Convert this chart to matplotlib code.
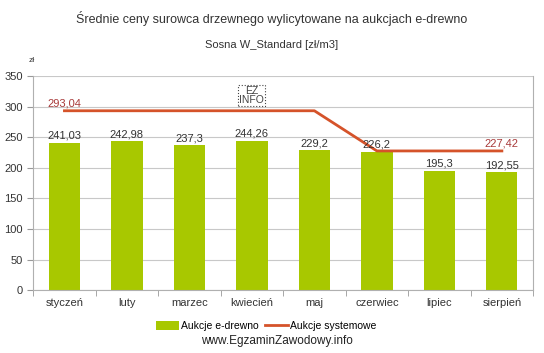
import matplotlib.pyplot as plt
import numpy as np

plt.rcParams['font.family'] = ['Liberation Sans', 'DejaVu Sans']

months = ["styczeń", "luty", "marzec", "kwiecień", "maj", "czerwiec", "lipiec", "sierpień"]
e_drewno = [241.03, 242.98, 237.3, 244.26, 229.2, 226.2, 195.3, 192.55]
systemowe = [293.04, 293.04, 293.04, 293.04, 293.04, 227.42, 227.42, 227.42]
yticks = [0, 50, 100, 150, 200, 250, 300, 350]


def pl(v):
    return ("%g" % v).replace(".", ",")


fig = plt.figure(figsize=(5.44, 3.53), dpi=100)
ax = fig.add_axes([0.061, 0.178, 0.919, 0.607])

x = np.arange(len(months))
bar_col = "#a8c800"
line_col = "#d5532a"
txt = "#333333"

bars = ax.bar(x, e_drewno, width=0.5, color=bar_col, zorder=2, label="Aukcje e-drewno")
line, = ax.plot(x, systemowe, color=line_col, lw=2, zorder=3, label="Aukcje systemowe")

for i, v in enumerate(e_drewno):
    ax.text(x[i], v + 3, pl(v), ha="center", va="bottom", fontsize=8, color=txt)
for i in (0, len(months) - 1):
    ax.text(x[i], systemowe[i] + 4, pl(systemowe[i]), ha="center", va="bottom",
            fontsize=8, color="#a83a3a")

ax.set_xlim(-0.5, len(months) - 0.5)
ax.set_ylim(0, 350)
ax.set_yticks(yticks)
ax.set_xticks(x)
ax.set_xticklabels(months)
ax.set_xticks(np.arange(len(months) + 1) - 0.5, minor=True)
ax.tick_params(axis="x", which="major", length=0, labelsize=8, labelcolor=txt, pad=6)
ax.tick_params(axis="x", which="minor", length=4, color="#999999")
ax.tick_params(axis="y", length=4, color="#999999", labelsize=8, labelcolor=txt)
ax.grid(axis="y", color="#c8c8c8", lw=0.8, zorder=0)
for s in ax.spines.values():
    s.set_color("#b0b0b0")
    s.set_linewidth(0.8)
ax.spines["top"].set_visible(False)

fig.text(0.5, 0.948, "Średnie ceny surowca drzewnego wylicytowane na aukcjach e-drewno",
         ha="center", va="center", fontsize=9, color=txt)
fig.text(0.5, 0.873, "Sosna W_Standard [zł/m3]", ha="center", va="center",
         fontsize=8, color=txt)
fig.text(0.059, 0.83, "zł", ha="center", va="center", fontsize=6, color=txt)

ax.text(3.0, 318, "EZ\nINFO", ha="center", va="center", fontsize=7.5, color="#444444",
        linespacing=0.85,
        bbox=dict(boxstyle="square,pad=0.1", fc="white", ec="#444444", ls=":", lw=0.8))

fig.legend([bars, line], ["Aukcje e-drewno", "Aukcje systemowe"],
           loc="center", bbox_to_anchor=(0.49, 0.077), ncol=2, frameon=False,
           fontsize=7.5, handlelength=2.2, handletextpad=0.2, columnspacing=0.6,
           handleheight=0.9)
fig.text(0.51, 0.035, "www.EgzaminZawodowy.info", ha="center", va="center",
         fontsize=8.5, color="#222222")

fig.savefig("out.png", dpi=100)
